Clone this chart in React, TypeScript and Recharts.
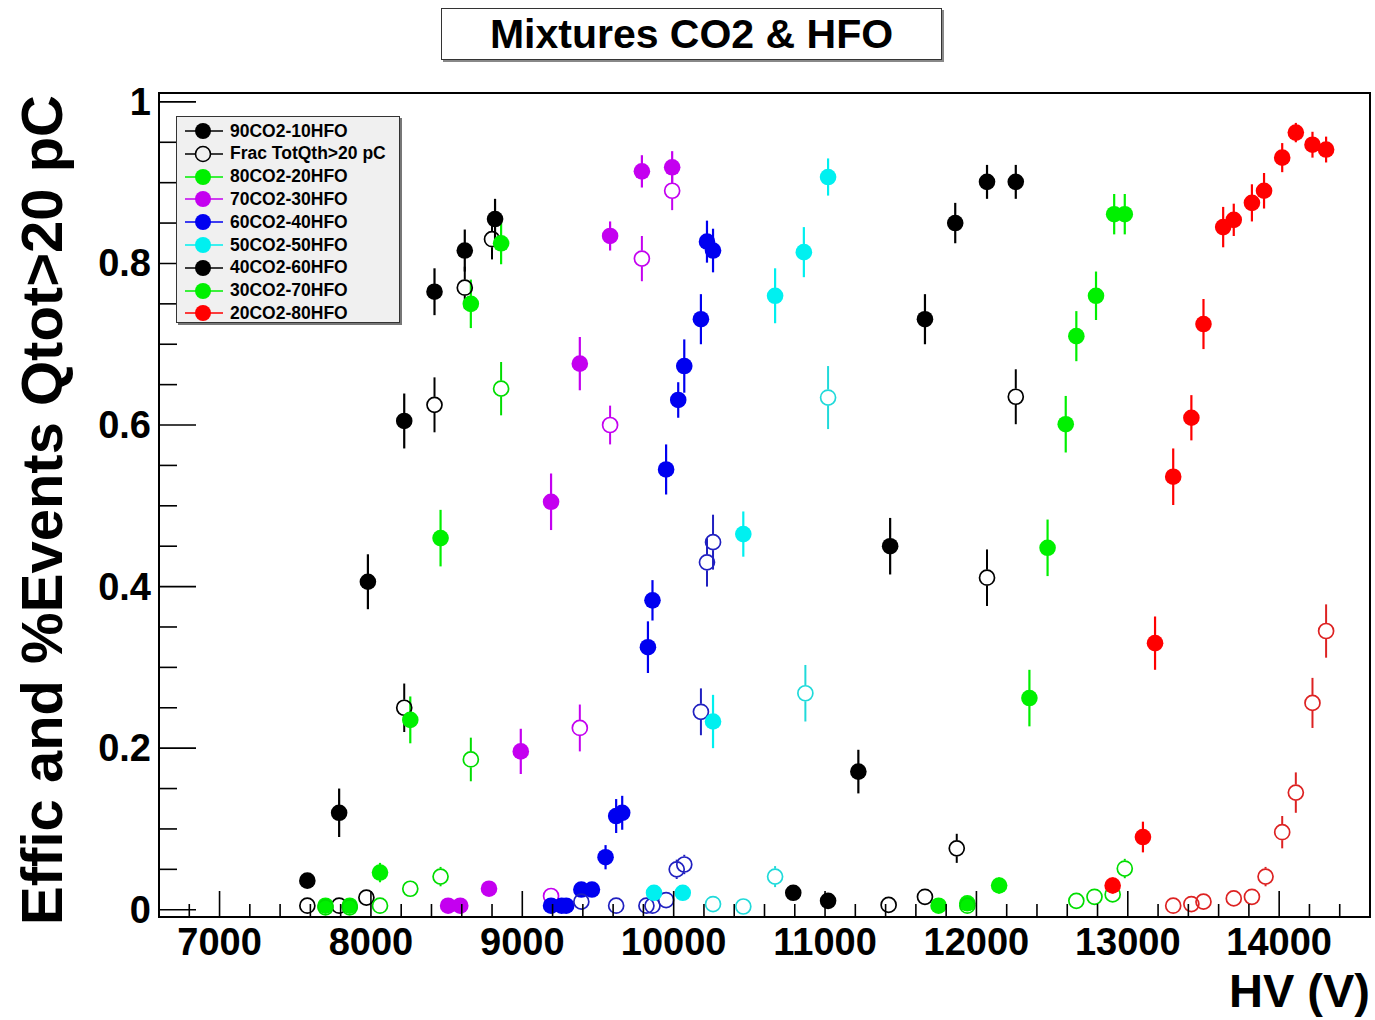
import { ScatterChart, Scatter, XAxis, YAxis, ErrorBar, Legend, ReferenceArea } from 'recharts';

const FONT = '"Liberation Sans", Arial, Helvetica, sans-serif';

// axis ticks
const xTicks = [6800, 7000, 7200, 7400, 7600, 7800, 8000, 8200, 8400, 8600, 8800, 9000, 9200, 9400, 9600, 9800, 10000, 10200, 10400, 10600, 10800, 11000, 11200, 11400, 11600, 11800, 12000, 12200, 12400, 12600, 12800, 13000, 13200, 13400, 13600, 13800, 14000, 14200, 14400];
const xLabels = [7000, 8000, 9000, 10000, 11000, 12000, 13000, 14000];
const yTicks = [0, 0.05, 0.1, 0.15, 0.2, 0.25, 0.3, 0.35, 0.4, 0.45, 0.5, 0.55, 0.6, 0.65, 0.7, 0.75, 0.8, 0.85, 0.9, 0.95, 1];
const yLabels = [0, 0.2, 0.4, 0.6, 0.8, 1];

// 90CO2-10HFO
const hv90 = [7580, 7790, 7980, 8220, 8420, 8620, 8820];
const eff90 = [0.036, 0.12, 0.406, 0.605, 0.765, 0.816, 0.855];
const effErr90 = [0.008, 0.03, 0.034, 0.034, 0.029, 0.026, 0.025];
const hvFrac90 = [7580, 7790, 7970, 8220, 8420, 8620, 8800];
const frac90 = [0.005, 0.005, 0.015, 0.25, 0.625, 0.77, 0.83];
const fracErr90 = [0.003, 0.003, 0.008, 0.03, 0.034, 0.026, 0.025];

// 80CO2-20HFO
const hv80 = [7700, 7860, 8060, 8260, 8460, 8660, 8860];
const eff80 = [0.005, 0.005, 0.046, 0.235, 0.46, 0.75, 0.825];
const effErr80 = [0.003, 0.003, 0.012, 0.029, 0.035, 0.03, 0.026];
const hvFrac80 = [7700, 7860, 8060, 8260, 8460, 8660, 8860];
const frac80 = [0.003, 0.003, 0.005, 0.026, 0.041, 0.186, 0.645];
const fracErr80 = [0.002, 0.002, 0.004, 0.01, 0.012, 0.027, 0.033];

// 70CO2-30HFO
const hv70 = [8510, 8590, 8780, 8990, 9190, 9380, 9580, 9790, 9990];
const eff70 = [0.005, 0.005, 0.026, 0.196, 0.505, 0.676, 0.834, 0.914, 0.919];
const effErr70 = [0.003, 0.003, 0.008, 0.028, 0.035, 0.033, 0.018, 0.02, 0.02];
const hvFrac70 = [9190, 9380, 9580, 9790, 9990];
const frac70 = [0.017, 0.225, 0.6, 0.806, 0.89];
const fracErr70 = [0.006, 0.029, 0.024, 0.028, 0.024];

// 60CO2-40HFO
const hv60 = [9190, 9260, 9290, 9390, 9460, 9550, 9620, 9660, 9830, 9860, 9950, 10030, 10070, 10180, 10220, 10260];
const eff60 = [0.005, 0.005, 0.005, 0.025, 0.025, 0.065, 0.116, 0.12, 0.325, 0.383, 0.545, 0.631, 0.673, 0.731, 0.827, 0.816];
const effErr60 = [0.003, 0.003, 0.003, 0.008, 0.008, 0.015, 0.021, 0.021, 0.032, 0.025, 0.031, 0.022, 0.033, 0.031, 0.026, 0.027];
const hvFrac60 = [9390, 9620, 9820, 9860, 9950, 10020, 10070, 10180, 10220, 10260];
const frac60 = [0.01, 0.005, 0.005, 0.005, 0.012, 0.05, 0.056, 0.245, 0.43, 0.455];
const fracErr60 = [0.005, 0.003, 0.003, 0.003, 0.006, 0.012, 0.012, 0.029, 0.03, 0.034];

// 50CO2-50HFO
const hv50 = [9870, 10060, 10260, 10460, 10670, 10860, 11020];
const eff50 = [0.021, 0.021, 0.233, 0.465, 0.76, 0.814, 0.907];
const effErr50 = [0.008, 0.008, 0.033, 0.028, 0.034, 0.031, 0.023];
const hvFrac50 = [10260, 10460, 10670, 10870, 11020];
const frac50 = [0.007, 0.004, 0.041, 0.268, 0.634];
const fracErr50 = [0.004, 0.003, 0.013, 0.035, 0.039];

// 40CO2-60HFO
const hv40 = [10790, 11020, 11220, 11430, 11660, 11860, 12070, 12260];
const eff40 = [0.021, 0.011, 0.171, 0.45, 0.731, 0.85, 0.901, 0.901];
const effErr40 = [0.008, 0.005, 0.027, 0.035, 0.031, 0.025, 0.021, 0.021];
const hvFrac40 = [11420, 11660, 11870, 12070, 12260];
const frac40 = [0.006, 0.016, 0.076, 0.411, 0.635];
const fracErr40 = [0.003, 0.006, 0.018, 0.035, 0.034];

// 30CO2-70HFO
const hv30 = [11750, 11940, 12150, 12350, 12470, 12590, 12660, 12790, 12910, 12980];
const eff30 = [0.005, 0.008, 0.03, 0.262, 0.448, 0.601, 0.71, 0.76, 0.861, 0.861];
const effErr30 = [0.003, 0.004, 0.01, 0.035, 0.035, 0.035, 0.031, 0.03, 0.025, 0.025];
const hvFrac30 = [11940, 12660, 12780, 12900, 12980];
const frac30 = [0.005, 0.011, 0.016, 0.019, 0.051];
const fracErr30 = [0.003, 0.005, 0.006, 0.007, 0.012];

// 20CO2-80HFO
const hv20 = [12900, 13100, 13180, 13300, 13420, 13500, 13630, 13700, 13820, 13900, 14020, 14110, 14220, 14310];
const eff20 = [0.03, 0.09, 0.33, 0.536, 0.609, 0.725, 0.845, 0.854, 0.875, 0.89, 0.931, 0.962, 0.947, 0.941];
const effErr20 = [0.01, 0.019, 0.033, 0.035, 0.028, 0.031, 0.025, 0.02, 0.023, 0.022, 0.018, 0.012, 0.016, 0.016];
const hvFrac20 = [13300, 13420, 13500, 13700, 13820, 13910, 14020, 14110, 14220, 14310];
const frac20 = [0.005, 0.007, 0.01, 0.014, 0.016, 0.041, 0.096, 0.145, 0.256, 0.345];
const fracErr20 = [0.003, 0.003, 0.004, 0.005, 0.005, 0.012, 0.02, 0.025, 0.031, 0.033];

const Y_DOMAIN: [number, number] = [-0.009, 1.011];
const PLOT_H = 824;
// open-marker radius expressed in y units, so the error bar stops at the circle
const GAP = (8 * (Y_DOMAIN[1] - Y_DOMAIN[0])) / PLOT_H;

const mk = (hv: number[], v: number[], e: number[]) => hv.map((x, i) => ({ hv: x, v: v[i], err: e[i] }));

const series = [
  { key: '90', color: '#000000', open: false, data: mk(hv90, eff90, effErr90) },
  { key: 'f90', color: '#000000', open: true, data: mk(hvFrac90, frac90, fracErr90) },
  { key: '80', color: '#00f000', open: false, data: mk(hv80, eff80, effErr80) },
  { key: 'f80', color: '#00dd00', open: true, data: mk(hvFrac80, frac80, fracErr80) },
  { key: '70', color: '#c400f0', open: false, data: mk(hv70, eff70, effErr70) },
  { key: 'f70', color: '#c400f0', open: true, data: mk(hvFrac70, frac70, fracErr70) },
  { key: '60', color: '#0000f0', open: false, data: mk(hv60, eff60, effErr60) },
  { key: 'f60', color: '#2020c0', open: true, data: mk(hvFrac60, frac60, fracErr60) },
  { key: '50', color: '#00f0f0', open: false, data: mk(hv50, eff50, effErr50) },
  { key: 'f50', color: '#20dada', open: true, data: mk(hvFrac50, frac50, fracErr50) },
  { key: '40', color: '#000000', open: false, data: mk(hv40, eff40, effErr40) },
  { key: 'f40', color: '#000000', open: true, data: mk(hvFrac40, frac40, fracErr40) },
  { key: '30', color: '#00f000', open: false, data: mk(hv30, eff30, effErr30) },
  { key: 'f30', color: '#00dd00', open: true, data: mk(hvFrac30, frac30, fracErr30) },
  { key: '20', color: '#ff0000', open: false, data: mk(hv20, eff20, effErr20) },
  { key: 'f20', color: '#dd2222', open: true, data: mk(hvFrac20, frac20, fracErr20) },
];

const legendNames = ['90CO2-10HFO', 'Frac TotQth>20 pC', '80CO2-20HFO', '70CO2-30HFO', '60CO2-40HFO', '50CO2-50HFO', '40CO2-60HFO', '30CO2-70HFO', '20CO2-80HFO'];
const legendColors = ['#000000', '#000000', '#00f000', '#c400f0', '#0000f0', '#00f0f0', '#000000', '#00f000', '#ff0000'];
const legendOpen = [false, true, false, false, false, false, false, false, false];

const upperErr = (d: any) => (d.err > GAP ? [-GAP, d.err] : [0, 0]);
const lowerErr = (d: any) => (d.err > GAP ? [d.err, -GAP] : [0, 0]);

const renderXTick = (props: any) => {
  const { x, y, payload } = props;
  const major = xLabels.includes(payload.value);
  return (
    <g>
      <line x1={x} x2={x} y1={y} y2={y - (major ? 26 : 13)} stroke="#000" strokeWidth={1.6} />
      {major && (
        <text x={x} y={y + 38} textAnchor="middle" fontSize={38} fontWeight="bold" fontFamily={FONT} fill="#000">
          {payload.value}
        </text>
      )}
    </g>
  );
};

const renderYTick = (props: any) => {
  const { x, y, payload } = props;
  const major = yLabels.includes(payload.value);
  return (
    <g>
      <line x1={x} x2={x + (major ? 37 : 18)} y1={y} y2={y} stroke="#000" strokeWidth={1.6} />
      {major && (
        <text x={x - 8} y={y + 13} textAnchor="end" fontSize={38} fontWeight="bold" fontFamily={FONT} fill="#000">
          {payload.value}
        </text>
      )}
    </g>
  );
};

const renderLegend = () => (
  <div
    style={{
      width: 224,
      height: 207,
      boxSizing: 'border-box',
      background: '#f0f0f0',
      border: '1.5px solid #333',
      boxShadow: '2px 2px 0 #777',
      position: 'relative',
      fontFamily: FONT,
    }}
  >
    {legendNames.map((name, i) => (
      <div key={name} style={{ position: 'absolute', left: 0, top: 3 + i * 22.8, height: 22, display: 'flex', alignItems: 'center' }}>
        <svg width={52} height={22}>
          <line x1={8} x2={46} y1={11} y2={11} stroke={legendColors[i]} strokeWidth={1.5} />
          <circle cx={26} cy={11} r={legendOpen[i] ? 7.5 : 8} fill={legendOpen[i] ? '#f0f0f0' : legendColors[i]} stroke={legendColors[i]} strokeWidth={legendOpen[i] ? 1.6 : 0} />
        </svg>
        <span style={{ fontSize: 17.5, fontWeight: 'bold', marginLeft: 1, color: '#000', whiteSpace: 'nowrap' }}>{name}</span>
      </div>
    ))}
  </div>
);

export default function App() {
  return (
    <div style={{ position: 'absolute', left: 0, top: 0, width: 1375, height: 1020, background: '#fff', fontFamily: FONT }}>
      <div
        style={{
          position: 'absolute',
          left: 441,
          top: 8,
          width: 501,
          height: 52,
          boxSizing: 'border-box',
          border: '1.5px solid #333',
          boxShadow: '2px 2px 0 #888',
          background: '#fff',
          textAlign: 'center',
          fontSize: 41,
          fontWeight: 'bold',
          lineHeight: '50px',
          zIndex: 2,
        }}
      >
        Mixtures CO2 &amp; HFO
      </div>
      <ScatterChart width={1375} height={1020} margin={{ top: 93, right: 5, bottom: 0, left: 0 }}>
        <XAxis
          dataKey="hv"
          type="number"
          domain={[6600, 14600]}
          allowDataOverflow
          ticks={xTicks}
          interval={0}
          tick={renderXTick}
          tickLine={false}
          axisLine={false}
          tickSize={0}
          tickMargin={0}
          height={103}
          label={(p: any) => (
            <text x={p.viewBox.x + p.viewBox.width} y={p.viewBox.y + 90} textAnchor="end" fontSize={47} fontWeight="bold" fontFamily={FONT} fill="#000">
              HV (V)
            </text>
          )}
        />
        <YAxis
          dataKey="v"
          type="number"
          domain={Y_DOMAIN}
          allowDataOverflow
          ticks={yTicks}
          interval={0}
          tick={renderYTick}
          tickLine={false}
          axisLine={false}
          tickSize={0}
          tickMargin={0}
          width={159}
          label={(p: any) => (
            <text
              transform={`translate(${p.viewBox.x + 62}, ${p.viewBox.y + 2}) rotate(-90)`}
              textAnchor="end"
              fontSize={58}
              fontWeight="bold"
              fontFamily={FONT}
              fill="#000"
            >
              Effic and %Events Qtot&gt;20 pC
            </text>
          )}
        />
        <ReferenceArea x1={6600} x2={14600} y1={Y_DOMAIN[0]} y2={Y_DOMAIN[1]} fill="none" stroke="#000" strokeWidth={2} ifOverflow="visible" />
        {series.map((s) => (
          <Scatter
            key={s.key}
            data={s.data}
            isAnimationActive={false}
            shape={(p: any) =>
              s.open ? (
                <circle cx={p.cx} cy={p.cy} r={7.5} fill="none" stroke={s.color} strokeWidth={1.7} />
              ) : (
                <circle cx={p.cx} cy={p.cy} r={8.3} fill={s.color} />
              )
            }
          >
            {s.open ? (
              [
                <ErrorBar key="up" dataKey={upperErr} direction="y" width={0} stroke={s.color} strokeWidth={2} isAnimationActive={false} />,
                <ErrorBar key="down" dataKey={lowerErr} direction="y" width={0} stroke={s.color} strokeWidth={2} isAnimationActive={false} />,
              ]
            ) : (
              <ErrorBar dataKey="err" direction="y" width={0} stroke={s.color} strokeWidth={2.2} isAnimationActive={false} />
            )}
          </Scatter>
        ))}
        <Legend
          layout="vertical"
          align="center"
          verticalAlign="middle"
          content={renderLegend}
          wrapperStyle={{ left: 176, top: 116, width: 224, height: 207 }}
        />
      </ScatterChart>
    </div>
  );
}
